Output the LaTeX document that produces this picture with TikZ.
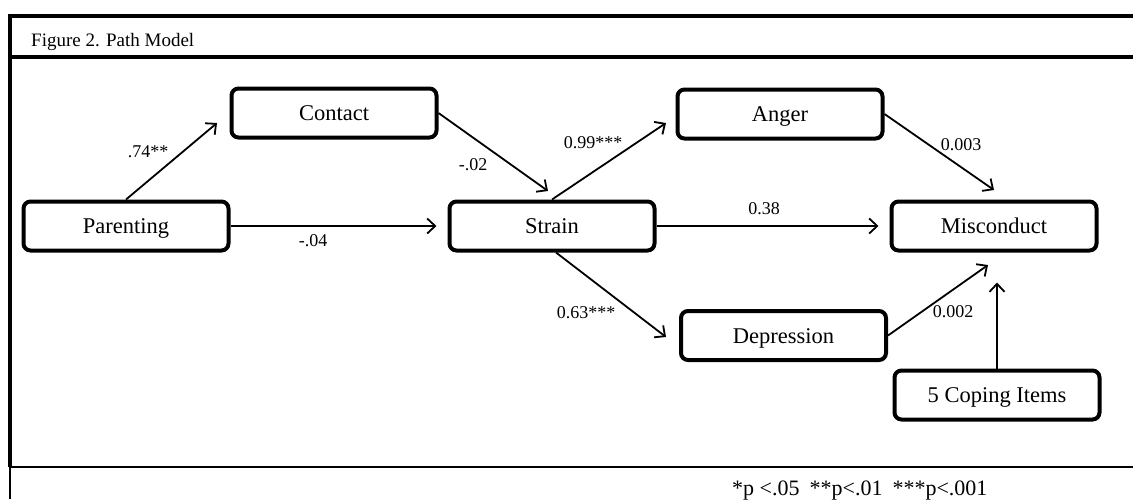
\documentclass[tikz,border=0pt]{standalone}
\usepackage{fontspec}
\setmainfont{Liberation Serif}
\usetikzlibrary{arrows.meta}

\begin{document}
\begin{tikzpicture} [x=1pt,y=-1pt,every node/.style={align=center},
	box/.style={draw,line width=4pt,rounded corners=7pt,minimum width=205pt,minimum height=49pt,text height=15pt,text depth=0pt,font=\fontsize{22.5}{26}\selectfont},
	lbl/.style={inner sep=0pt,font=\fontsize{18}{21}\selectfont},
	link/.style={line width=1.8pt,-{Straight Barb[length=8pt,width=15pt,line width=1.8pt]}}]
			\useasboundingbox (0,0) rectangle (1133,499);
			\draw [line width=4.5pt] (7.75,16) -- (1133,16);
			\draw [line width=4.5pt] (10,13.75) -- (10,467);
			\draw [line width=3.5pt] (10,57) -- (1133,57);
			\draw [line width=2pt] (10,467) -- (1133,467);
			\draw [line width=2.5pt] (10,467) -- (10,499);
			\node [anchor=base west,inner sep=0pt,font=\fontsize{19}{23}\selectfont] (title) at (31,46) {Figure 2. Path Model};
			\node [anchor=base west,inner sep=0pt,font=\fontsize{22}{26}\selectfont] (sig) at (732,495) {*p <.05\hspace{10pt}**p<.01\hspace{10pt}***p<.001};
			\node [box] (par) at (126,226) {Parenting};
			\node [box] (con) at (334,113) {Contact};
			\node [box] (str) at (552,226) {Strain};
			\node [box] (ang) at (780,114) {Anger};
			\node [box] (mis) at (994,226) {Misconduct};
			\node [box] (dep) at (783.5,335.5) {Depression};
			\node [box] (cop) at (997,395) {5 Coping Items};
			\coordinate (parcon) at (217,123);
			\coordinate (constr) at (548,191);
			\coordinate (strang) at (666,123);
			\coordinate (angmis) at (994,190);
			\coordinate (strdep) at (666,337);
			\coordinate (depmis) at (988,265);
			\draw [link] (par.north) -- (parcon);
			\draw [link] (con.east) -- (constr);
			\draw [link,shorten >=11pt] (par.east) -- (str.west);
			\draw [link] (str.north) -- (strang);
			\draw [link,shorten >=11pt] (str.east) -- (mis.west);
			\draw [link] (ang.east) -- (angmis);
			\draw [link] ([xshift=4pt]str.south) -- (strdep);
			\draw [link] (dep.east) -- (depmis);
			\draw [link,shorten >=30pt] (cop.north) -- (cop.north |- mis.south);
			\node [lbl] (parconlbl) at (148,152) {.74**};
			\node [lbl] (constrlbl) at (473,165) {-.02};
			\node [lbl] (parstrlbl) at (313,241) {-.04};
			\node [lbl] (stranglbl) at (593,143) {0.99***};
			\node [lbl] (strmislbl) at (764,209) {0.38};
			\node [lbl] (angmislbl) at (961,145) {0.003};
			\node [lbl] (strdeplbl) at (586,313) {0.63***};
			\node [lbl] (depmislbl) at (953,312) {0.002};
		\end{tikzpicture}
\end{document}
